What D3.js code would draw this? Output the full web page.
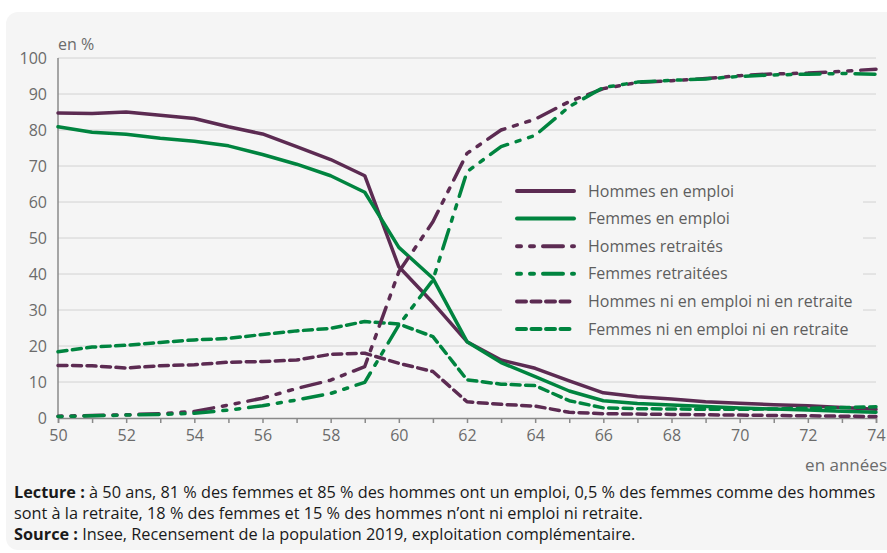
<!DOCTYPE html>
<html>
<head>
<meta charset="utf-8">
<script src="https://cdn.jsdelivr.net/npm/d3@7"></script>
<style>
  html, body { margin: 0; padding: 0; background: #ffffff; }
  svg { display: block; font-family: "Open Sans", "Noto Sans", sans-serif; }
</style>
</head>
<body>
<div id="chart"></div>
<script>
// Ages (x axis) and shares in %
const ages = d3.range(50, 75);

const hommesEmploi = [84.7, 84.6, 85.0, 84.1, 83.2, 80.9, 78.9, 75.4, 71.8, 67.3,
  42.0, 32.0, 21.2, 16.1, 13.8, 10.3, 7.0, 5.9, 5.3, 4.5, 4.1, 3.7, 3.4, 2.9, 2.4];
const femmesEmploi = [80.9, 79.4, 78.8, 77.7, 76.9, 75.6, 73.2, 70.5, 67.3, 62.7,
  47.4, 38.8, 21.2, 15.4, 11.5, 7.5, 4.8, 4.0, 3.6, 3.2, 2.8, 2.5, 2.2, 1.9, 1.6];
const hommesRetraites = [0.5, 0.7, 0.9, 1.2, 1.8, 3.6, 5.5, 8.2, 10.5, 14.3,
  40.6, 54.5, 73.5, 80.0, 83.0, 87.9, 91.5, 93.2, 93.7, 94.3, 95.1, 95.6, 95.8, 96.3, 96.9];
const femmesRetraitees = [0.4, 0.6, 0.8, 1.0, 1.3, 2.2, 3.4, 5.0, 6.8, 9.9,
  25.8, 38.3, 68.4, 75.4, 78.5, 86.5, 91.8, 93.3, 93.8, 94.2, 94.9, 95.3, 95.5, 95.7, 95.5];
const hommesNi = [14.6, 14.5, 13.9, 14.5, 14.8, 15.5, 15.7, 16.1, 17.7, 18.0,
  15.2, 12.9, 4.5, 3.8, 3.3, 1.6, 1.2, 1.1, 1.0, 0.9, 0.8, 0.7, 0.6, 0.5, 0.4];
const femmesNi = [18.4, 19.7, 20.2, 21.0, 21.7, 22.1, 23.2, 24.2, 24.9, 26.8,
  26.1, 22.6, 10.6, 9.4, 9.0, 4.8, 2.8, 2.6, 2.5, 2.4, 2.4, 2.5, 2.7, 2.9, 3.1];

const yTicks = d3.range(0, 101, 10);

const PURPLE = "#5c2b52";
const GREEN = "#00843f";
const DASHDOT = "4,9,4,9,20,9";
const DASHED = "9,5.5";

const series = [
  { name: "Hommes en emploi", values: hommesEmploi, color: PURPLE, dash: null },
  { name: "Femmes en emploi", values: femmesEmploi, color: GREEN, dash: null },
  { name: "Hommes retraités", values: hommesRetraites, color: PURPLE, dash: DASHDOT },
  { name: "Femmes retraitées", values: femmesRetraitees, color: GREEN, dash: DASHDOT },
  { name: "Hommes ni en emploi ni en retraite", values: hommesNi, color: PURPLE, dash: DASHED },
  { name: "Femmes ni en emploi ni en retraite", values: femmesNi, color: GREEN, dash: DASHED }
];

const W = 887, H = 553;
const margin = { left: 58, right: 11, top: 58, bottom: 135 };

const svg = d3.select("#chart").append("svg")
  .attr("width", W).attr("height", H)
  .attr("viewBox", `0 0 ${W} ${H}`);

// grey card behind everything
svg.append("rect")
  .attr("x", 6).attr("y", 12)
  .attr("width", W + 20).attr("height", 538)
  .attr("rx", 12)
  .attr("fill", "#f5f5f5");

const x = d3.scaleLinear().domain([50, 74]).range([margin.left, W - margin.right]);
const y = d3.scaleLinear().domain([0, 100]).range([H - margin.bottom, margin.top]);

// gridlines
svg.append("g")
  .selectAll("line")
  .data(yTicks.filter(d => d > 0))
  .join("line")
  .attr("x1", x(50)).attr("x2", x(74))
  .attr("y1", d => y(d)).attr("y2", d => y(d))
  .attr("stroke", "#d2d2d2").attr("stroke-width", 1);

// y labels
svg.append("g")
  .selectAll("text")
  .data(yTicks)
  .join("text")
  .attr("x", 47).attr("y", d => y(d))
  .attr("dy", "0.35em")
  .attr("text-anchor", "end")
  .attr("font-size", 16)
  .attr("fill", "#6b6b6b")
  .text(d => d);

svg.append("text")
  .attr("x", 58).attr("y", 50)
  .attr("font-size", 16).attr("fill", "#6b6b6b")
  .text("en %");

// x axis
const xAxis = d3.axisBottom(x)
  .tickValues(ages)
  .tickSize(5)
  .tickFormat(d => (d % 2 === 0 ? d : ""));
const gx = svg.append("g")
  .attr("transform", `translate(0,${y(0)})`)
  .call(xAxis);
gx.select(".domain").attr("stroke", "#8a8a8a").attr("stroke-width", 1.5);
gx.selectAll(".tick line").attr("stroke", "#8a8a8a").attr("stroke-width", 1.5);
gx.selectAll(".tick text")
  .attr("y", 12)
  .attr("font-size", 16)
  .attr("font-family", "Open Sans, sans-serif")
  .attr("fill", "#6b6b6b");

// y axis line
svg.append("line")
  .attr("x1", x(50)).attr("x2", x(50))
  .attr("y1", y(100)).attr("y2", y(0))
  .attr("stroke", "#8a8a8a").attr("stroke-width", 1.5);

svg.append("text")
  .attr("x", 887).attr("y", 471)
  .attr("text-anchor", "end")
  .attr("font-size", 17).attr("fill", "#6b6b6b")
  .text("en années");

// legend background hides gridlines under it
const lg = svg.append("g");
lg.append("rect")
  .attr("x", 502).attr("y", 171)
  .attr("width", 361).attr("height", 170)
  .attr("fill", "#f5f5f5");

const line = d3.line()
  .x((d, i) => x(ages[i]))
  .y(d => y(d));

// draw solids first so the dashed ones sit on top
const drawOrder = [0, 1, 4, 5, 2, 3];
svg.append("g")
  .selectAll("path")
  .data(drawOrder.map(i => series[i]))
  .join("path")
  .attr("d", d => line(d.values))
  .attr("fill", "none")
  .attr("stroke", d => d.color)
  .attr("stroke-width", 3.5)
  .attr("stroke-linecap", "round")
  .attr("stroke-linejoin", "round")
  .attr("stroke-dasharray", d => d.dash);

const rowY = i => 191 + i * 27.6;
const items = lg.selectAll("g.item")
  .data(series)
  .join("g")
  .attr("class", "item");
items.append("line")
  .attr("x1", 517).attr("x2", d => (d.dash === DASHED ? 570 : 574))
  .attr("y1", (d, i) => rowY(i)).attr("y2", (d, i) => rowY(i))
  .attr("stroke", d => d.color)
  .attr("stroke-width", 4)
  .attr("stroke-linecap", "round")
  .attr("stroke-dasharray", d => d.dash);
items.append("text")
  .attr("x", 588).attr("y", (d, i) => rowY(i))
  .attr("dy", "0.35em")
  .attr("font-size", 16)
  .attr("fill", "#5e5e5e")
  .text(d => d.name);

// notes
const notes = svg.append("g")
  .attr("font-size", 16.3)
  .attr("fill", "#1a1a1a");
const n1 = notes.append("text").attr("x", 14).attr("y", 498);
n1.append("tspan").attr("font-weight", "bold").text("Lecture :");
n1.append("tspan").text(" à 50 ans, 81 % des femmes et 85 % des hommes ont un emploi, 0,5 % des femmes comme des hommes");
notes.append("text").attr("x", 14).attr("y", 519)
  .text("sont à la retraite, 18 % des femmes et 15 % des hommes n’ont ni emploi ni retraite.");
const n3 = notes.append("text").attr("x", 14).attr("y", 540);
n3.append("tspan").attr("font-weight", "bold").text("Source :");
n3.append("tspan").text(" Insee, Recensement de la population 2019, exploitation complémentaire.");
</script>
</body>
</html>
